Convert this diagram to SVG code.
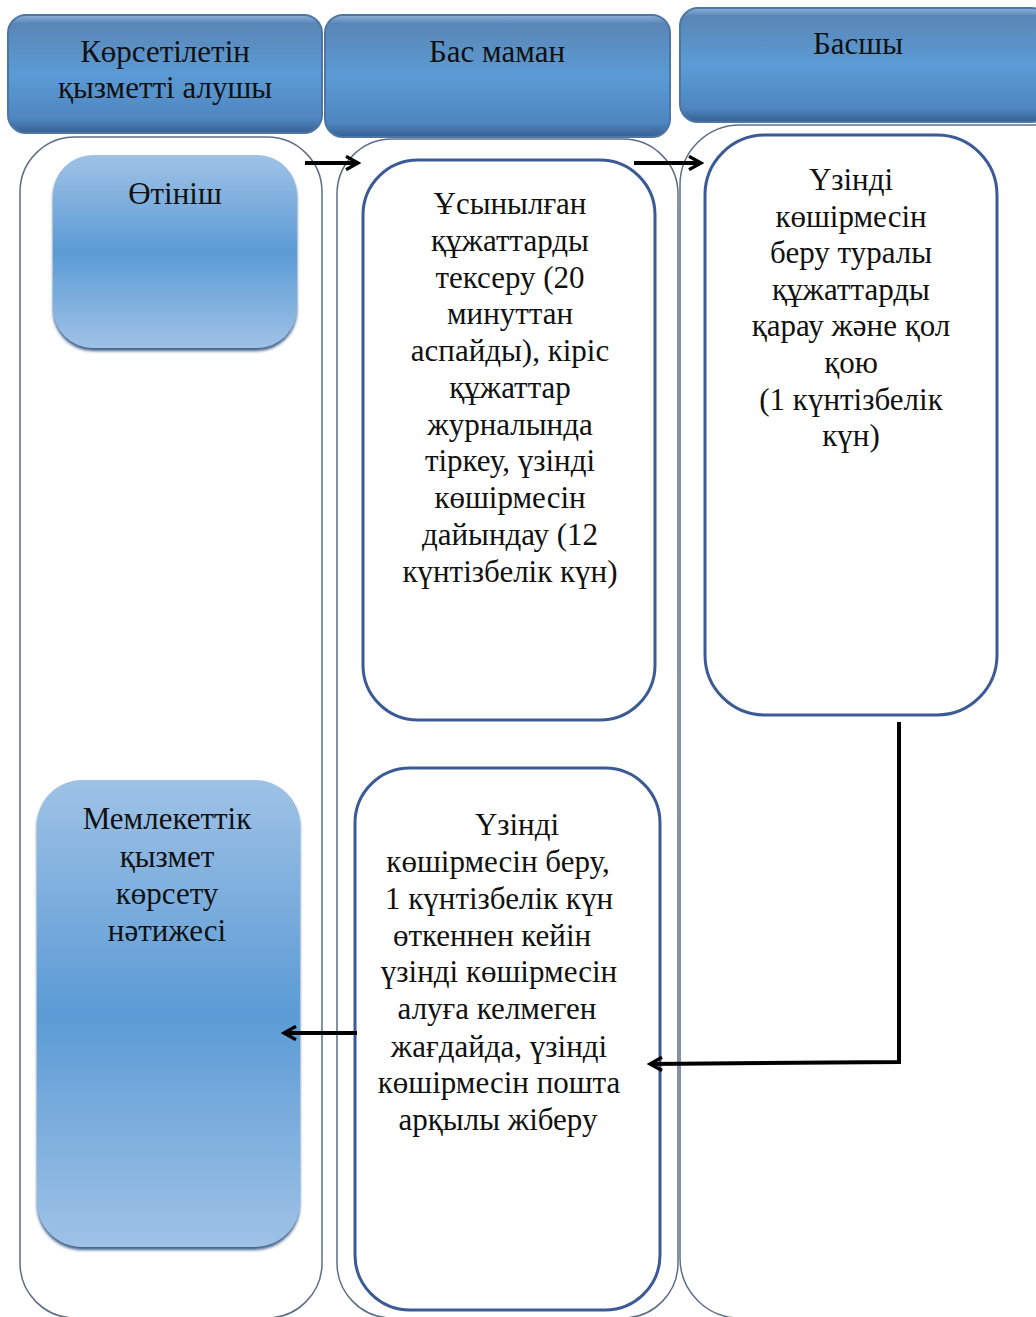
<svg xmlns="http://www.w3.org/2000/svg" width="1036" height="1317" viewBox="0 0 1036 1317">
<defs>
<linearGradient id="gHead" x1="0" y1="0" x2="0" y2="1">
<stop offset="0" stop-color="#8fb2da"/>
<stop offset="0.07" stop-color="#5a86b6"/>
<stop offset="0.5" stop-color="#5b9bd5"/>
<stop offset="0.88" stop-color="#4f86c0"/>
<stop offset="1" stop-color="#365f92"/>
</linearGradient>
<linearGradient id="gNode" x1="0" y1="0" x2="0" y2="1">
<stop offset="0" stop-color="#9fc2e6"/>
<stop offset="0.5" stop-color="#5b9bd5"/>
<stop offset="1" stop-color="#9fc2e6"/>
</linearGradient>
<marker id="ah" viewBox="0 0 12 12" refX="10" refY="6" markerWidth="4" markerHeight="4" orient="auto" markerUnits="strokeWidth">
<path d="M1,1 L10,6 L1,11" fill="none" stroke="#000" stroke-width="2.5"/>
</marker>
<filter id="sh" x="-5%" y="-5%" width="110%" height="110%">
<feDropShadow dx="0" dy="3" stdDeviation="1.5" flood-color="#2b4f7e" flood-opacity="0.9"/>
</filter>
</defs>
<style>
.lane{fill:#fff;stroke:#5d6f88;stroke-width:1.5}
.head{fill:url(#gHead);stroke:#4d76a6;stroke-width:2}
.blue{fill:url(#gNode);filter:url(#sh)}
.box{fill:#fff;stroke:#3b5a96;stroke-width:3}
text{font-family:"Liberation Serif","Times New Roman",serif;font-size:31px;fill:#111;text-anchor:middle}
.conn{fill:none;stroke:#000;stroke-width:4;marker-end:url(#ah)}
</style>
<g id="lanes">
<rect class="lane" x="20" y="137" width="302" height="1181" rx="55"/>
<rect class="lane" x="337" y="139" width="341" height="1179" rx="55"/>
<rect class="lane" x="680" y="125" width="420" height="1193" rx="60"/>
</g>
<g id="header1">
<rect class="head" x="8" y="15" width="314" height="118" rx="18"/>
<text x="165" y="62">Көрсетілетін</text>
<text x="165" y="98">қызметті алушы</text>
</g>
<g id="header2">
<rect class="head" x="325" y="15" width="345" height="122" rx="18"/>
<text x="497" y="62">Бас маман</text>
</g>
<g id="header3">
<rect class="head" x="680" y="8" width="370" height="114" rx="18"/>
<text x="858" y="54">Басшы</text>
</g>
<g id="n-otinish">
<rect class="blue" x="53" y="155" width="244" height="193" rx="40"/>
<text x="175" y="204">Өтініш</text>
</g>
<g id="n-tekseru">
<rect class="box" x="363" y="160" width="292" height="560" rx="55"/>
<text x="510" y="214">Ұсынылған</text>
<text x="510" y="251">құжаттарды</text>
<text x="510" y="288">тексеру (20</text>
<text x="510" y="324">минуттан</text>
<text x="510" y="361">аспайды), кіріс</text>
<text x="510" y="398">құжаттар</text>
<text x="510" y="435">журналында</text>
<text x="510" y="471">тіркеу, үзінді</text>
<text x="510" y="508">көшірмесін</text>
<text x="510" y="545">дайындау (12</text>
<text x="510" y="582">күнтізбелік күн)</text>
</g>
<g id="n-basshy">
<rect class="box" x="705" y="135" width="292" height="580" rx="60"/>
<text x="851" y="190">Үзінді</text>
<text x="851" y="227">көшірмесін</text>
<text x="851" y="263">беру туралы</text>
<text x="851" y="300">құжаттарды</text>
<text x="851" y="336">қарау және қол</text>
<text x="851" y="373">қою</text>
<text x="851" y="410">(1 күнтізбелік</text>
<text x="851" y="446">күн)</text>
</g>
<g id="n-beru">
<rect class="box" x="355" y="768" width="305" height="542" rx="55"/>
<text x="517" y="835">Үзінді</text>
<text x="498" y="872">көшірмесін беру,</text>
<text x="499" y="909">1 күнтізбелік күн</text>
<text x="492" y="946">өткеннен кейін</text>
<text x="499" y="982">үзінді көшірмесін</text>
<text x="497" y="1019">алуға келмеген</text>
<text x="499" y="1057">жағдайда, үзінді</text>
<text x="499" y="1093">көшірмесін пошта</text>
<text x="498" y="1130">арқылы жіберу</text>
</g>
<g id="n-natizhe">
<rect class="blue" x="37" y="780" width="263" height="467" rx="45"/>
<text x="167" y="829">Мемлекеттік</text>
<text x="167" y="867">қызмет</text>
<text x="167" y="904">көрсету</text>
<text x="167" y="941">нәтижесі</text>
</g>
<g id="connectors">
<path class="conn" d="M305,163 L358,163"/>
<path class="conn" d="M634,163 L701,163"/>
<path class="conn" d="M899,722 L899,1062 L650,1064"/>
<path class="conn" d="M357,1033 L284,1033"/>
</g>
</svg>
